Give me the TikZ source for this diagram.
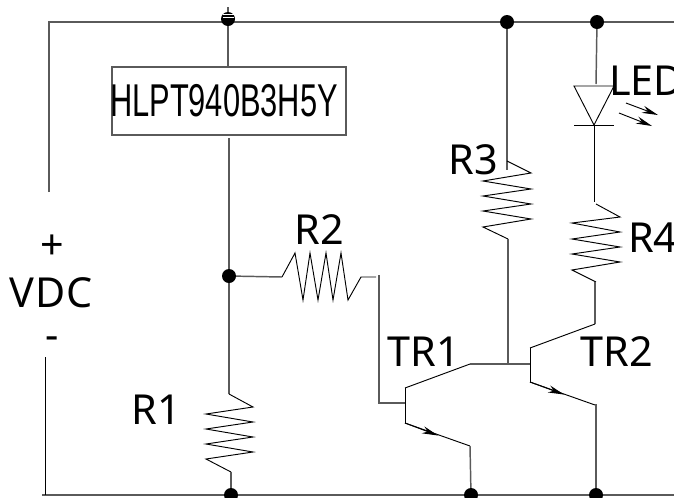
\documentclass[tikz,border=0pt]{standalone}
\usepackage{fontspec}
\setmainfont{Noto Sans}
\newfontfamily\boxfont{Liberation Sans}
\usetikzlibrary{arrows.meta,positioning}
\definecolor{rail}{HTML}{5A5A5A}
\tikzset{
  wire/.style={draw=rail, line width=1.1pt},
  thin wire/.style={draw=black, line width=0.7pt, line join=miter},
  jdot/.style={circle, fill=black, inner sep=0pt, minimum size=10.5pt},
  lab/.style={text=black, font=\fontsize{31}{31}\selectfont, inner sep=0pt},
  partbox/.style={draw=rail, line width=1pt, minimum width=175.5pt, minimum height=51pt, inner sep=0pt},
  tip/.style={-{Stealth[length=12pt,width=5.5pt]}},
}

\begin{document}
\begin{tikzpicture}[x=0.75pt,y=-0.75pt]
\useasboundingbox (0,0) rectangle (674,497);

\coordinate (TL) at (49,22);
\coordinate (TR) at (674,22);
\coordinate (BL) at (42,495);
\coordinate (BR) at (674,495);
\coordinate (T1) at (228,19);
\coordinate (T3) at (507,22);
\coordinate (T4) at (597,22);
\coordinate (J2) at (229,276);
\coordinate (B1) at (231,495);
\coordinate (B2) at (471,495);
\coordinate (B3) at (596,495);

% rails and supply
\draw[wire] (49,192) -- (TL) -- (TR);
\draw[wire] (BL) -- (BR);
\draw[thin wire] (45,357) -- (45,495);

% laser box
\node[partbox] (hlpt) at (229,101) {\hspace{-7.5pt}\scalebox{0.67}[1]{\boxfont\fontsize{34.5}{34.5}\selectfont HLPT940B3H5Y}};
\draw[wire] (228,7) -- (228,67);
\draw[wire] (229,138) -- (J2);

% R1
\draw[wire] (J2) -- (229,394);
\draw[thin wire] (229,394) -- (253,407) -- (206,414) -- (253,422) -- (206,429) -- (253,437) -- (206,444) -- (253,452) -- (206,459) -- (231,472);
\draw[wire] (231,472) -- (B1);

% R2
\draw[wire] (J2) -- (282,277);
\draw[thin wire] (282,277) -- (295,253) -- (303,300) -- (310,253) -- (318,300) -- (326,253) -- (333,300) -- (341,253) -- (348,300) -- (361,277) -- (376,277);
\draw[wire] (379,275) -- (379,403) -- (405,403);

% TR1
\draw[thin wire] (405,388) -- (405,423);
\draw[thin wire] (405,388) -- (470,364);
\draw[thin wire] (405,423) -- (470,446);
\draw[thin wire, tip] (405,423) -- (438,435.5);
\draw[wire] (470,364) -- (530,364);
\draw[wire] (470,446) -- (B2);

% R3
\draw[wire] (T3) -- (507,170);
\draw[thin wire] (507,161) -- (531,173) -- (483,181) -- (531,189) -- (483,196) -- (531,204) -- (483,211) -- (531,219) -- (483,227) -- (508,239);
\draw[wire] (508,239) -- (508,364);

% LED
\draw[wire] (T4) -- (596,84);
\draw[thin wire] (574,86) -- (614,86) -- (594,125) -- cycle;
\draw[thin wire] (574,125) -- (614,125);
\draw[thin wire] (594,125) -- (594,202);
\draw[thin wire, tip] (626,103) -- (658,115);
\draw[thin wire, tip] (619,113) -- (652,126);

% R4
\draw[thin wire] (596,204) -- (620,217) -- (572,223) -- (620,232) -- (572,239) -- (620,247) -- (572,254) -- (620,262) -- (572,270) -- (596,282);
\draw[wire] (595,282) -- (595,324);

% TR2
\draw[thin wire] (530,348) -- (530,382);
\draw[thin wire] (530,348) -- (595,324);
\draw[thin wire] (530,382) -- (595,405);
\draw[thin wire, tip] (530,382) -- (564,394.5);
\draw[wire] (596,404) -- (B3);

% junction dots
\foreach \n/\p in {dA/T1,dB/T3,dC/T4,dD/J2,dE/B1,dF/B2,dG/B3}{
  \node[jdot] (\n) at (\p) {};
}
\draw[white, line width=0.6pt] (223,14) -- (234,14);
\draw[white, line width=0.6pt] (223,17) -- (234,17);

% labels
\node[lab, anchor=west] (lled) at (609,81) {LED};
\node[lab] (lr3) at (473,160) {R3};
\node[lab] (lr2) at (319,230) {R2};
\node[lab, anchor=west] (lr4) at (628,238) {R4};
\node[lab] (lr1) at (156,410) {R1};
\node[lab] (ltr1) at (424,352) {TR1};
\node[lab] (ltr2) at (617,352) {TR2};
\node[lab] (lplus) at (52,247) {+};
\node[lab] (lv) at (51,293) {V\hspace{1pt}DC};
\node[lab] (lminus) at (52,343) {-};
\end{tikzpicture}
\end{document}
